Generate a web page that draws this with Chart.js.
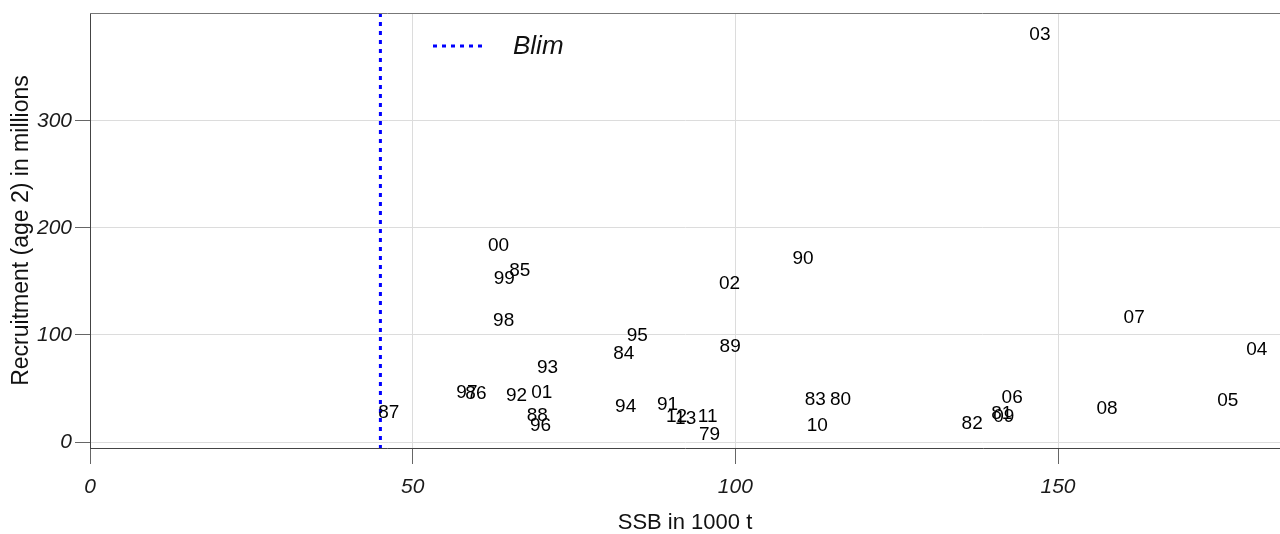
<!DOCTYPE html>
<html>
<head>
<meta charset="utf-8">
<script src="https://cdn.jsdelivr.net/npm/chart.js@4"></script>
<style>
  html, body { margin: 0; padding: 0; background: #fff; }
  #wrap { width: 1280px; height: 534px; }
</style>
</head>
<body>
<div id="wrap"><canvas id="stockChart" width="1280" height="534"></canvas></div>
<script>
// Year labels (two digits) for each point
const years = ['79', '80', '81', '82', '83', '84', '85', '86', '87', '88',
               '89', '90', '91', '92', '93', '94', '95', '96', '97', '98',
               '99', '00', '01', '02', '03', '04', '05', '06', '07', '08',
               '09', '10', '11', '12', '13'];

// SSB in 1000 t
const ssb = [96.0, 116.3, 141.3, 136.7, 112.4, 82.7, 66.6, 59.8, 46.3, 69.3,
             99.2, 110.5, 89.5, 66.1, 70.9, 83.0, 84.8, 69.8, 58.4, 64.1,
             64.2, 63.3, 70.0, 99.1, 147.2, 180.8, 176.3, 142.9, 161.8, 157.6,
             141.6, 112.7, 95.7, 90.9, 92.3];

// Recruitment (age 2) in millions
const recruitment = [8.4, 41, 28, 18.7, 41, 84, 161.7, 46.7, 29, 26,
                     90.7, 173, 36.4, 44.9, 71, 34.6, 101, 16.8, 47.7, 115,
                     154, 185, 47.7, 149.5, 382, 87.9, 40.2, 43, 117.8, 32.7,
                     25, 16.8, 25, 25, 23];

// Reference point
const blim = 45;
const blimLabel = 'Blim';

// Axis ticks
const xTicks = [0, 50, 100, 150];
const yTicks = [0, 100, 200, 300];

const BLUE = '#0000ff';

// Draws the year text at each scatter point
const yearLabels = {
    id: 'yearLabels',
    afterDatasetsDraw(chart) {
        const meta = chart.getDatasetMeta(0);
        const ctx = chart.ctx;
        ctx.save();
        ctx.font = '19px "Liberation Sans", Arial, sans-serif';
        ctx.fillStyle = '#000';
        ctx.textAlign = 'center';
        ctx.textBaseline = 'middle';
        meta.data.forEach((pt, i) => {
            // small baseline nudge so the digits sit centred on the point
            ctx.fillText(years[i], pt.x, pt.y + 1.5);
        });
        ctx.restore();
    }
};

// Top frame line and the in-plot legend
const frameAndLegend = {
    id: 'frameAndLegend',
    afterDraw(chart) {
        const { ctx, chartArea } = chart;
        ctx.save();
        ctx.strokeStyle = '#777';
        ctx.lineWidth = 1;
        ctx.beginPath();
        ctx.moveTo(chartArea.left, chartArea.top + 0.5);
        ctx.lineTo(chartArea.right, chartArea.top + 0.5);
        ctx.stroke();

        // legend entry
        ctx.strokeStyle = BLUE;
        ctx.lineWidth = 3;
        ctx.setLineDash([4, 5]);
        ctx.beginPath();
        ctx.moveTo(433, 46);
        ctx.lineTo(486, 46);
        ctx.stroke();
        ctx.setLineDash([]);
        ctx.fillStyle = '#111';
        ctx.font = 'italic 26px "Liberation Sans", Arial, sans-serif';
        ctx.textAlign = 'left';
        ctx.textBaseline = 'middle';
        ctx.fillText(blimLabel, 513, 47);
        ctx.restore();
    }
};

const tickFont = { family: '"Liberation Sans", Arial, sans-serif', size: 21, style: 'italic' };
const titleFont = { family: '"Liberation Sans", Arial, sans-serif', size: 22, lineHeight: 1 };

new Chart(document.getElementById('stockChart'), {
    type: 'scatter',
    data: {
        datasets: [{
            label: 'Stock-recruitment',
            data: ssb.map((x, i) => ({ x, y: recruitment[i] })),
            pointRadius: 0,
            pointHoverRadius: 0,
            showLine: false
        }, {
            label: blimLabel,
            type: 'line',
            data: [{ x: blim, y: 400.9 }, { x: blim, y: -5.6 }],
            borderColor: BLUE,
            borderWidth: 3,
            borderDash: [4, 5],
            pointRadius: 0,
            fill: false
        }]
    },
    options: {
        responsive: false,
        animation: false,
        events: [],
        layout: { padding: { top: 13, right: 0, bottom: 0, left: 0 } },
        plugins: {
            legend: { display: false },
            tooltip: { enabled: false }
        },
        scales: {
            x: {
                type: 'linear',
                min: 0,
                max: 184.4,
                afterBuildTicks: (scale) => { scale.ticks = xTicks.map(v => ({ value: v })); },
                afterFit: (scale) => {
                    scale.height = 86;
                    scale.paddingLeft = 0;
                    scale.paddingRight = 0;
                },
                grid: { color: '#dcdcdc', tickColor: '#666', tickLength: 16 },
                border: { color: '#444', width: 1 },
                ticks: { font: tickFont, color: '#1a1a1a', padding: 11, maxRotation: 0 },
                title: {
                    display: true,
                    text: 'SSB in 1000 t',
                    font: titleFont,
                    color: '#111',
                    padding: { top: 0, bottom: 0 }
                }
            },
            y: {
                type: 'linear',
                min: -5.6,
                max: 400.9,
                afterBuildTicks: (scale) => { scale.ticks = yTicks.map(v => ({ value: v })); },
                afterFit: (scale) => {
                    scale.width = 90;
                    scale.paddingTop = 0;
                    scale.paddingBottom = 0;
                },
                grid: { color: '#dcdcdc', tickColor: '#666', tickLength: 15 },
                border: { color: '#444', width: 1 },
                ticks: { font: tickFont, color: '#1a1a1a', padding: 3 },
                title: {
                    display: true,
                    text: 'Recruitment (age 2) in millions',
                    font: { family: '"Liberation Sans", Arial, sans-serif', size: 23, lineHeight: 1 },
                    color: '#111',
                    padding: { top: 10, bottom: 0 }
                }
            }
        }
    },
    plugins: [yearLabels, frameAndLegend]
});
</script>
</body>
</html>
